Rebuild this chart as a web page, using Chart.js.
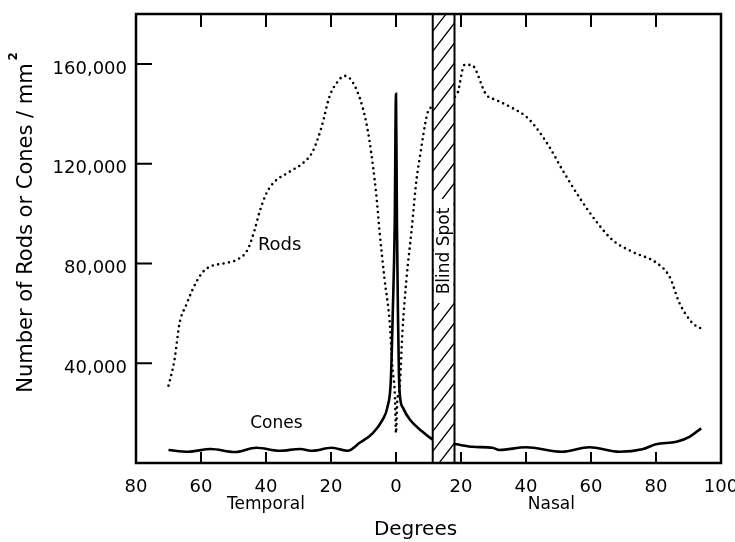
<!DOCTYPE html>
<html>
<head>
<meta charset="utf-8">
<script src="https://cdn.jsdelivr.net/npm/chart.js@4.4.1/dist/chart.umd.min.js"></script>
<style>
    html, body { margin: 0; padding: 0; background: #fff; }
    #wrap { width: 735px; height: 542px; }
</style>
</head>
<body>
<div id="wrap"><canvas id="retinaChart" width="735" height="542"></canvas></div>
<script>
// eccentricity in degrees, temporal side negative, nasal side positive
var rodsDeg = [-70, -68.2, -66.6, -64.5, -62.6, -59.8, -57.4, -52.2, -49.1, -45.7, -43.5, -42, -39.8, -37.4,
    -32.8, -28.2, -25.7, -22.9, -20.5, -18, -15.8, -13.4, -10.3, -8.2, -6, -5.1, -3.5, -2, -1.1, -0.3, 0,
    0.4, 1.1, 2, 3.2, 4.8, 6.3, 7.2, 9.7, 10.9, 14, 18.7, 21.1, 23.2, 27.8, 30.9, 35.8, 40.2, 43.2, 47.2,
    51.2, 56.5, 62, 66.6, 72.8, 80.2, 84.2, 87.2, 91.2, 93.7];
var rodsDensity = [31000, 41000, 56000, 63500, 69500, 76000, 78600, 80200, 81400, 85400, 93400, 100600, 108300, 112700,
    116700, 120700, 124700, 134700, 146800, 152800, 155200, 152800, 142700, 129500, 106700, 93400, 73400, 57300, 38500, 26000, 12000,
    25000, 30000, 53000, 73400, 93400, 113500, 121500, 140300, 142700, 145000, 147600, 159600, 159600, 147600, 145500, 142300, 138700, 134300, 126700,
    117500, 106300, 96200, 89400, 84600, 80200, 74600, 64200, 56100, 54000];

var conesDeg = [-70, -64, -57, -49.7, -43, -35.8, -29.5, -25.7, -19.8, -14.9, -11.2, -7.2, -4.2, -2.6, -1.6, -1, -0.4, 0,
    0.3, 0.6, 0.9, 1.2, 2.2, 4.2, 8.2, 11.2, 14, 18.6, 23.5, 29.7, 31.8, 40, 51, 59.5, 68.8, 75.8, 80, 86.3, 90.3, 93.9];
var conesDensity = [5200, 4500, 5600, 4400, 6100, 4900, 5600, 4900, 6100, 4900, 8100, 11900, 17200, 22600, 33000, 60000, 95000, 148000,
    95000, 60000, 36000, 27000, 22000, 17500, 12500, 9500, 8500, 7500, 6500, 6100, 5200, 6300, 4500, 6300, 4500, 5500, 7500, 8500, 10500, 13900];

var yTickValues = [40000, 80000, 120000, 160000];
var blindSpot = [11.3, 18.0];

function toPoints(xs, ys) {
    return xs.map(function (x, i) { return { x: x, y: ys[i] }; });
}

Chart.defaults.font.family = "'DejaVu Sans', sans-serif";
Chart.defaults.color = '#000';

var decor = {
    id: 'decor',
    afterDatasetsDraw: function (chart) {
        var ctx = chart.ctx, a = chart.chartArea;
        var xs = chart.scales.x, ys = chart.scales.y;
        var x1 = xs.getPixelForValue(blindSpot[0]), x2 = xs.getPixelForValue(blindSpot[1]);

        // blind spot: white box with hatching
        ctx.save();
        ctx.fillStyle = '#fff';
        ctx.fillRect(x1, a.top, x2 - x1, a.bottom - a.top);
        ctx.beginPath();
        ctx.rect(x1, a.top, x2 - x1, a.bottom - a.top);
        ctx.clip();
        ctx.beginPath();
        ctx.strokeStyle = '#000';
        ctx.lineWidth = 1.3;
        var rise = (x2 - x1) * 1.3;
        for (var y = a.bottom + rise; y > a.top - 20; y -= 20) {
            ctx.moveTo(x1, y);
            ctx.lineTo(x2, y - rise);
        }
        ctx.stroke();
        ctx.restore();

        // gap for the label
        var mid = (x1 + x2) / 2, ty = ys.getPixelForValue(85000);
        ctx.save();
        ctx.fillStyle = '#fff';
        ctx.fillRect(x1 + 1, ty - 52, x2 - x1 - 2, 104);
        ctx.strokeStyle = '#000';
        ctx.lineWidth = 2;
        ctx.strokeRect(x1, a.top, x2 - x1, a.bottom - a.top);
        ctx.translate(mid, ty);
        ctx.rotate(-Math.PI / 2);
        ctx.fillStyle = '#000';
        ctx.font = "17px 'DejaVu Sans'";
        ctx.textAlign = 'center';
        ctx.textBaseline = 'middle';
        ctx.fillText('Blind Spot', 0, 1);
        ctx.restore();

        // frame and inward ticks
        ctx.save();
        ctx.strokeStyle = '#000';
        ctx.lineWidth = 2.5;
        ctx.strokeRect(a.left, a.top, a.right - a.left, a.bottom - a.top);
        ctx.lineWidth = 2;
        ctx.beginPath();
        xs.ticks.forEach(function (t) {
            var px = xs.getPixelForValue(t.value);
            ctx.moveTo(px, a.bottom);
            ctx.lineTo(px, a.bottom - 11);
            ctx.moveTo(px, a.top);
            ctx.lineTo(px, a.top + 13);
        });
        yTickValues.forEach(function (v) {
            var py = ys.getPixelForValue(v);
            ctx.moveTo(a.left, py);
            ctx.lineTo(a.left + 16, py);
        });
        ctx.stroke();
        ctx.restore();

        // curve labels
        ctx.save();
        ctx.fillStyle = '#000';
        ctx.textAlign = 'center';
        ctx.textBaseline = 'middle';
        ctx.font = "18px 'DejaVu Sans'";
        ctx.fillText('Rods', xs.getPixelForValue(-35.8), ys.getPixelForValue(87400));
        ctx.font = "17px 'DejaVu Sans'";
        ctx.fillText('Cones', xs.getPixelForValue(-36.8), ys.getPixelForValue(16000));
        ctx.restore();
    },
    afterDraw: function (chart) {
        var ctx = chart.ctx, a = chart.chartArea;
        var xs = chart.scales.x, ys = chart.scales.y;
        ctx.save();
        ctx.fillStyle = '#000';

        // y tick labels
        ctx.textAlign = 'right';
        ctx.textBaseline = 'middle';
        ctx.font = "18px 'DejaVu Sans'";
        yTickValues.forEach(function (v) {
            ctx.fillText(v.toLocaleString('en-US'), a.left - 9, ys.getPixelForValue(v) + 5);
        });

        ctx.textAlign = 'center';
        ctx.font = "17px 'DejaVu Sans'";
        ctx.fillText('Temporal', xs.getPixelForValue(-40), 505);
        ctx.fillText('Nasal', xs.getPixelForValue(47.8), 505);
        ctx.font = "20px 'DejaVu Sans'";
        ctx.fillText('Degrees', xs.getPixelForValue(6), 530);

        // y title, rotated, with superscript
        ctx.translate(27, 228);
        ctx.rotate(-Math.PI / 2);
        ctx.font = "21px 'DejaVu Sans'";
        var title = 'Number of Rods or Cones / mm';
        ctx.fillText(title, 0, 0);
        var w = ctx.measureText(title).width;
        ctx.font = "bold 12px 'DejaVu Sans'";
        ctx.fillText('2', w / 2 + 7, -13);
        ctx.restore();
    }
};

var chart = new Chart(document.getElementById('retinaChart'), {
    type: 'line',
    data: {
        datasets: [
            {
                label: 'Rods',
                data: toPoints(rodsDeg, rodsDensity),
                borderColor: '#000',
                borderWidth: 2.6,
                borderDash: [0, 5.5],
                borderCapStyle: 'round',
                pointRadius: 0,
                cubicInterpolationMode: 'monotone'
            },
            {
                label: 'Cones',
                data: toPoints(conesDeg, conesDensity),
                borderColor: '#000',
                borderWidth: 2.6,
                pointRadius: 0,
                cubicInterpolationMode: 'monotone'
            }
        ]
    },
    options: {
        responsive: false,
        animation: false,
        layout: { padding: { top: 14, right: 14, left: 0, bottom: 0 } },
        plugins: {
            legend: { display: false },
            tooltip: { enabled: false }
        },
        scales: {
            x: {
                type: 'linear',
                min: -80,
                max: 100,
                grid: { display: false },
                border: { display: false },
                ticks: {
                    stepSize: 20,
                    padding: 6,
                    font: { size: 18 },
                    maxRotation: 0,
                    callback: function (v) { return Math.abs(v); }
                },
                afterFit: function (s) {
                    s.height = 79;
                    s.paddingLeft = 0;
                    s.paddingRight = 0;
                }
            },
            y: {
                min: 0,
                max: 180000,
                grid: { display: false },
                border: { display: false },
                ticks: { display: false, stepSize: 40000 },
                afterFit: function (s) {
                    s.width = 136;
                    s.paddingTop = 0;
                    s.paddingBottom = 0;
                }
            }
        }
    },
    plugins: [decor]
});
</script>
</body>
</html>
